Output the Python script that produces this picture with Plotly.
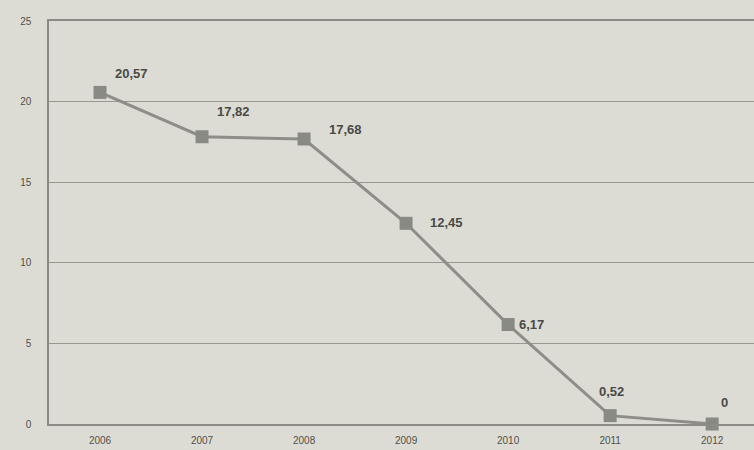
import plotly.graph_objects as go

years = ["2006", "2007", "2008", "2009", "2010", "2011", "2012"]
values = [20.57, 17.82, 17.68, 12.45, 6.17, 0.52, 0]
value_labels = ["20,57", "17,82", "17,68", "12,45", "6,17", "0,52", "0"]

# label offsets in pixels (styling only)
label_dx = [31, 31, 41, 40, 23, 1, 12]
label_dy = [19, 25, 10, 1, 0, 24, 22]

bg = "#dcdcd5"
fig = go.Figure()
fig.add_trace(go.Scatter(
    x=years, y=values, mode="lines+markers",
    line=dict(color="#8e8e88", width=3),
    marker=dict(symbol="square", size=13, color="#8a8a84"),
    showlegend=False, cliponaxis=False,
))
for i, (yv, t, dx, dy) in enumerate(zip(values, value_labels, label_dx, label_dy)):
    fig.add_annotation(x=i, y=yv, text="<b>" + t + "</b>", showarrow=False,
                       xshift=dx, yshift=dy,
                       font=dict(family="Liberation Sans, Arial", size=13, color="#4a4a46"))

fig.update_layout(
    width=754, height=450,
    margin=dict(l=49, r=0, t=21, b=26),
    paper_bgcolor=bg, plot_bgcolor=bg,
    font=dict(family="Liberation Sans, Arial", size=10, color="#55554f"),
    xaxis=dict(type="category", range=[-0.5, 6.41], showgrid=False,
               showline=True, mirror=True, linecolor="#8c8c86", linewidth=1.5,
               ticks="", ticklabelstandoff=6, tickfont=dict(size=10, color="#505049")),
    yaxis=dict(range=[0, 25], dtick=5, showgrid=True, gridcolor="#98988f", gridwidth=1.2,
               showline=True, linecolor="#8c8c86", linewidth=1.5, zeroline=False,
               ticks="", ticklabelstandoff=14, tickfont=dict(size=10, color="#505049")),
)
fig.write_html("out.html", config={"displayModeBar": False},
               post_script="document.body.style.margin='0';document.body.style.overflow='hidden';"
                           "document.body.style.background='" + bg + "';")
